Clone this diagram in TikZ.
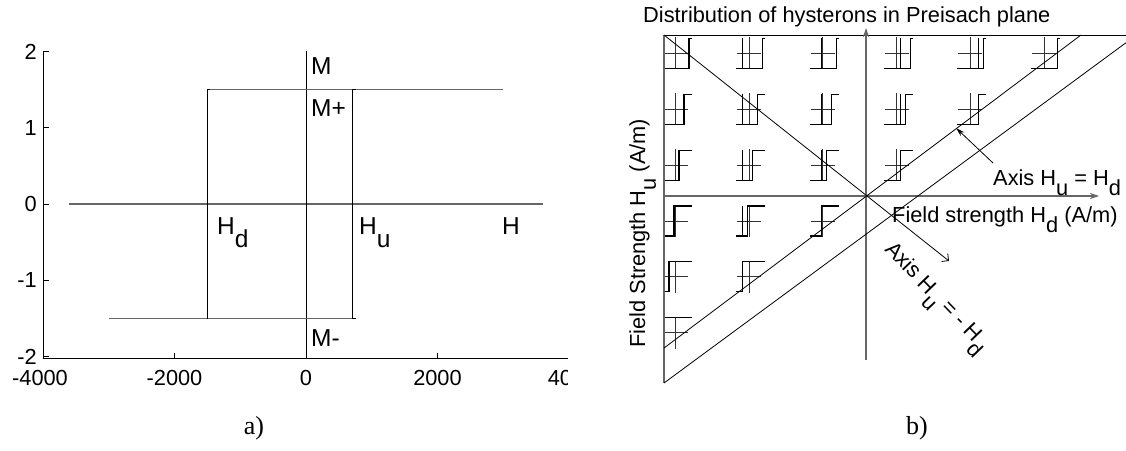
\documentclass[tikz,border=0pt]{standalone}
\usepackage{fontspec}
\setmainfont{Liberation Serif}
\setsansfont{Liberation Sans}
\usetikzlibrary{arrows.meta}
\newcommand\lo[2][0.5em]{\raisebox{-#1}{#2}}
\begin{document}
\begin{tikzpicture}[x=1pt,y=-1pt,
  ax/.style={line width=1pt,black},
  gline/.style={line width=1.2pt,black!60},
  vln/.style={line width=1pt,black},
  thin/.style={line width=0.8pt,black},
  hyst/.style={line width=1.1pt,black},
  crs/.style={line width=0.9pt,black!80},
  sf/.style={font=\sffamily\fontsize{21.8}{24}\selectfont,inner sep=0pt},
  sfl/.style={font=\sffamily\fontsize{24.5}{27}\selectfont,inner sep=0pt},
  captxt/.style={font=\fontsize{26}{30}\selectfont,inner sep=0pt},
  axarrow/.style={-{Stealth[length=9pt,width=6pt]}},
  ptarrow/.style={-{Stealth[length=9pt,width=5pt]}},
  openarrow/.style={-{Straight Barb[length=5pt,width=10pt]}}]
\useasboundingbox[fill=white] (0,0) rectangle (1126,450);

% ---------------- a) square hysteresis loop ----------------
\coordinate (yTop) at (43,51);
\coordinate (org) at (43,358);
\coordinate (xEnd) at (568,358);
\draw[ax] (yTop) -- (org) -- (xEnd);
\foreach \v/\t in {2/2,1/1,0/0,-1/-1,-2/-2}{
  \pgfmathsetmacro\yy{204-76.3*\v}
  \draw[ax] (43,\yy) -- (49,\yy);
  \node[sf,anchor=east] (ylab\t) at (37,\yy) {\t};
}
\foreach \h in {-1,0,1}{
  \pgfmathsetmacro\xx{306+\h*131.5}
  \draw[ax] (\xx,358) -- (\xx,353);
}
\node[sf] (xm4) at (40,378) {-4000};
\node[sf] (xm2) at (174.5,378) {-2000};
\node[sf] (x0) at (306,378) {0};
\node[sf] (x2) at (437.5,378) {2000};
\begin{scope}
  \clip (500,360) rectangle (567,400);
  \node[sf] (x4) at (572,378) {4000};
\end{scope}

% field and magnetisation axes
\coordinate (hL) at (69,204);
\coordinate (hR) at (543,204);
\coordinate (mT) at (306,51);
\coordinate (mB) at (306,358);
\draw[gline] (hL) -- (hR);
\draw[vln] (mT) -- (mB);

% loop branches
\coordinate (dT) at (207.4,89.5);
\coordinate (dB) at (207.4,318.5);
\coordinate (uT) at (352,89.5);
\coordinate (uB) at (352,318.5);
\coordinate (satR) at (503,89.5);
\coordinate (satL) at (109,318.5);
\draw[gline] (dT) -- (satR);
\draw[gline] (satL) -- (uB);
\draw[vln] (dT) -- (dB);
\draw[vln] (uT) -- (uB);
\draw[line width=1.6pt] (dT) -- ++(3,0) (uT) -- ++(4,0) (uB) -- ++(4,0);

\node[sfl,anchor=base west] (lM) at (311,74) {M};
\node[sfl,anchor=base west] (lMp) at (311,116) {M+};
\node[sfl,anchor=base west] (lMm) at (311,346) {M-};
\node[sfl,anchor=base west] (lHd) at (217,234) {H\lo[0.55em]{d}};
\node[sfl,anchor=base west] (lHu) at (359,234) {H\lo[0.55em]{u}};
\node[sfl,anchor=base west] (lH) at (502,234) {H};
\node[captxt] (capa) at (254,428) {a)};

% ---------------- b) Preisach plane ----------------
\coordinate (O) at (866,196);
\coordinate (TL) at (664,35);
\coordinate (TR) at (1126,35);
\coordinate (BL) at (664,383);
\coordinate (Hs) at (664,196);
\coordinate (He) at (1099,196);
\coordinate (Vb) at (866,360);
\coordinate (Vt) at (866,28);
\coordinate (D1a) at (664,348);
\coordinate (D1b) at (1081,35);
\coordinate (D2b) at (1126,42.7);
\coordinate (Atip) at (949,261);
\coordinate (Pt) at (993,163);
\coordinate (Ph) at (956,128);

% hysterons on a triangular grid
\foreach \i in {1,...,6}{
  \pgfmathtruncatemacro\nc{7-\i}
  \foreach \j in {1,...,\nc}{
    \pgfmathsetmacro\bx{662.5+73.7*(\j-1)}
    \pgfmathsetmacro\by{68.3+55.9*(\i-1)}
    \pgfmathsetmacro\hd{1.5+5*(\j-1)}
    \pgfmathsetmacro\hu{1.5+5*(6-\i)}
    \begin{scope}[shift={(\bx,\by)}]
      \draw[crs] (1,-15) -- (25,-15) (13,-31) -- (13,1);
      \draw[hyst] (0,0) -- (\hu,0) -- (\hu,-30) -- (29,-30);
      \draw[hyst] (\hd,-30) -- (\hd,0);
    \end{scope}
  }
}

\draw[thin] (TL) -- (TR);
\draw[gline] (TL) -- (BL);
\draw[gline,axarrow] (Hs) -- (He);
\draw[gline,axarrow] (Vb) -- (Vt);
\draw[thin] (D1a) -- (D1b);
\draw[thin] (BL) -- (D2b);
\draw[thin,openarrow] (TL) -- (Atip);
\draw[thin,ptarrow] (Pt) -- (Ph);

\node[sf,anchor=base west] (title) at (643,22) {Distribution of hysterons in Preisach plane};
\node[sf,anchor=base west] (axeq) at (993,185) {Axis H\lo{u} = H\lo{d}};
\node[sf,anchor=base west] (hdlab) at (892,222) {Field strength H\lo{d} (A/m)};
\node[sf,anchor=base west,rotate=90] (hulab) at (645,348) {Field Strength H\lo{u} (A/m)};
\node[sf,anchor=base west,rotate=-46] (axneq) at (884,250) {Axis H\lo{u} = - H\lo{d}};
\node[captxt] (capb) at (917,428) {b)};
\end{tikzpicture}
\end{document}
